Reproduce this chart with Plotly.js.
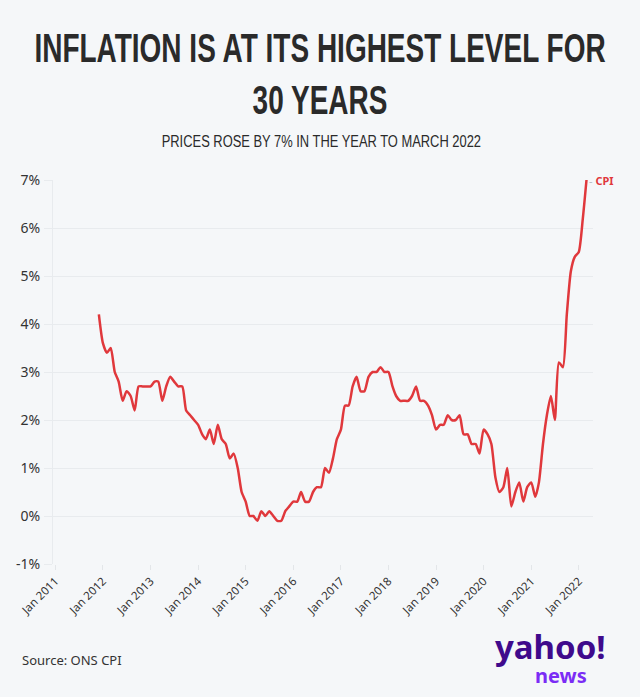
<!DOCTYPE html>
<html>
<head>
<meta charset="utf-8">
<script src="https://cdn.plot.ly/plotly-3.0.1.min.js"></script>
<style>
  html, body { margin: 0; padding: 0; background: #f5f7f9; }
  #chart { width: 640px; height: 697px; }
</style>
</head>
<body>
<div id="chart"></div>
<script>
// Monthly dates (Dec 2011 - Mar 2022)
const months = [
  '2011-12-01',
  '2012-01-01','2012-02-01','2012-03-01','2012-04-01','2012-05-01','2012-06-01','2012-07-01','2012-08-01','2012-09-01','2012-10-01','2012-11-01','2012-12-01',
  '2013-01-01','2013-02-01','2013-03-01','2013-04-01','2013-05-01','2013-06-01','2013-07-01','2013-08-01','2013-09-01','2013-10-01','2013-11-01','2013-12-01',
  '2014-01-01','2014-02-01','2014-03-01','2014-04-01','2014-05-01','2014-06-01','2014-07-01','2014-08-01','2014-09-01','2014-10-01','2014-11-01','2014-12-01',
  '2015-01-01','2015-02-01','2015-03-01','2015-04-01','2015-05-01','2015-06-01','2015-07-01','2015-08-01','2015-09-01','2015-10-01','2015-11-01','2015-12-01',
  '2016-01-01','2016-02-01','2016-03-01','2016-04-01','2016-05-01','2016-06-01','2016-07-01','2016-08-01','2016-09-01','2016-10-01','2016-11-01','2016-12-01',
  '2017-01-01','2017-02-01','2017-03-01','2017-04-01','2017-05-01','2017-06-01','2017-07-01','2017-08-01','2017-09-01','2017-10-01','2017-11-01','2017-12-01',
  '2018-01-01','2018-02-01','2018-03-01','2018-04-01','2018-05-01','2018-06-01','2018-07-01','2018-08-01','2018-09-01','2018-10-01','2018-11-01','2018-12-01',
  '2019-01-01','2019-02-01','2019-03-01','2019-04-01','2019-05-01','2019-06-01','2019-07-01','2019-08-01','2019-09-01','2019-10-01','2019-11-01','2019-12-01',
  '2020-01-01','2020-02-01','2020-03-01','2020-04-01','2020-05-01','2020-06-01','2020-07-01','2020-08-01','2020-09-01','2020-10-01','2020-11-01','2020-12-01',
  '2021-01-01','2021-02-01','2021-03-01','2021-04-01','2021-05-01','2021-06-01','2021-07-01','2021-08-01','2021-09-01','2021-10-01','2021-11-01','2021-12-01',
  '2022-01-01','2022-02-01','2022-03-01'
];

// CPI annual rate, %
const cpi = [
  4.2,
  3.6,3.4,3.5,3.0,2.8,2.4,2.6,2.5,2.2,2.7,2.7,2.7,
  2.7,2.8,2.8,2.4,2.7,2.9,2.8,2.7,2.7,2.2,2.1,2.0,
  1.9,1.7,1.6,1.8,1.5,1.9,1.6,1.5,1.2,1.3,1.0,0.5,
  0.3,0.0,0.0,-0.1,0.1,0.0,0.1,0.0,-0.1,-0.1,0.1,0.2,
  0.3,0.3,0.5,0.3,0.3,0.5,0.6,0.6,1.0,0.9,1.2,1.6,
  1.8,2.3,2.3,2.7,2.9,2.6,2.6,2.9,3.0,3.0,3.1,3.0,
  3.0,2.7,2.5,2.4,2.4,2.4,2.5,2.7,2.4,2.4,2.3,2.1,
  1.8,1.9,1.9,2.1,2.0,2.0,2.1,1.7,1.7,1.5,1.5,1.3,
  1.8,1.7,1.5,0.8,0.5,0.6,1.0,0.2,0.5,0.7,0.3,0.6,
  0.7,0.4,0.7,1.5,2.1,2.5,2.0,3.2,3.1,4.2,5.1,5.4,
  5.5,6.2,7.0
];

const tickDates = ['2011-01-01','2012-01-01','2013-01-01','2014-01-01','2015-01-01','2016-01-01',
                   '2017-01-01','2018-01-01','2019-01-01','2020-01-01','2021-01-01','2022-01-01'];
const tickLabels = ['Jan 2011','Jan 2012','Jan 2013','Jan 2014','Jan 2015','Jan 2016',
                    'Jan 2017','Jan 2018','Jan 2019','Jan 2020','Jan 2021','Jan 2022'];
const yTicks = [-1,0,1,2,3,4,5,6,7];
const yLabels = ['-1%','0%','1%','2%','3%','4%','5%','6%','7%'];

const seriesName = 'CPI';
const titleText = 'INFLATION IS AT ITS HIGHEST LEVEL FOR<br>30 YEARS';
const subtitleText = 'PRICES ROSE BY 7% IN THE YEAR TO MARCH 2022';
const sourceText = 'Source: ONS CPI';

const bg = '#f5f7f9';
const red = '#e0383c';
const grid = '#e8ebee';

const trace = {
  x: months, y: cpi, type: 'scatter', mode: 'lines', name: seriesName,
  line: { color: red, width: 2.5, shape: 'spline', smoothing: 0.6 },
  hoverinfo: 'skip'
};

const lastX = months[months.length - 1];
const lastY = cpi[cpi.length - 1];

const layout = {
  width: 640, height: 697,
  paper_bgcolor: bg, plot_bgcolor: bg,
  margin: { l: 53, r: 47, t: 180, b: 133 },
  showlegend: false,
  font: { family: 'Noto Sans, sans-serif', color: '#333333' },
  title: {
    text: titleText,
    font: { family: 'Liberation Sans, Arial, sans-serif', size: 40, color: '#2a2a2a', weight: 700 },
    x: 0.5, xanchor: 'center', xref: 'container',
    y: 0.955, yref: 'container', yanchor: 'top'
  },
  xaxis: {
    type: 'date',
    range: ['2010-12-14', '2022-04-20'],
    tickmode: 'array', tickvals: tickDates, ticktext: tickLabels,
    tickangle: -45,
    tickfont: { size: 11.5, color: '#333333', family: 'Noto Sans, sans-serif' },
    showgrid: false, zeroline: false,
    showline: false,
    ticks: 'outside', ticklen: 5, tickcolor: '#e3e6e9'
  },
  yaxis: {
    range: [-1, 7],
    tickmode: 'array', tickvals: yTicks, ticktext: yLabels,
    tickfont: { size: 14, color: '#333333', family: 'Noto Sans, sans-serif' },
    showgrid: true, gridcolor: grid, gridwidth: 1,
    zeroline: false,
    showline: true, linecolor: grid, linewidth: 1,
    ticks: 'outside', ticklen: 8, tickcolor: grid, ticklabelstandoff: 1
  },
  annotations: [
    {
      text: subtitleText, xref: 'paper', yref: 'paper',
      x: 0.5, xshift: -(53 - 47) / 2 + 1, y: 1, yshift: 39, xanchor: 'center', yanchor: 'middle', showarrow: false,
      font: { family: 'Liberation Sans, Arial, sans-serif', size: 17, color: '#2a2a2a' }
    },
    {
      text: '<span style="color:#b8bcc0">-</span> <b>' + seriesName + '</b>',
      x: lastX, y: lastY, xref: 'x', yref: 'y',
      xanchor: 'left', yanchor: 'middle', showarrow: false, xshift: 1,
      font: { family: 'Noto Sans, sans-serif', size: 11, color: red }
    },
    {
      text: sourceText, xref: 'paper', yref: 'paper',
      x: 0, xshift: -33, y: 0, yshift: -96, xanchor: 'left', yanchor: 'middle', showarrow: false,
      font: { family: 'Noto Sans, sans-serif', size: 13, color: '#333333' }
    },
    {
      text: '<b>yahoo!</b>', xref: 'paper', yref: 'paper',
      x: 1, xshift: 15, y: 0, yshift: -82, xanchor: 'right', yanchor: 'middle', showarrow: false,
      font: { family: 'Noto Sans, sans-serif', size: 33, color: '#3f0a8c', weight: 900 }
    },
    {
      text: '<b>news</b>', xref: 'paper', yref: 'paper',
      x: 1, xshift: -4, y: 0, yshift: -111, xanchor: 'right', yanchor: 'middle', showarrow: false,
      font: { family: 'Noto Sans, sans-serif', size: 20, color: '#7b2cf5' }
    }
  ]
};

function condense(el, sx, dy) {
  if (!el) return;
  const bb = el.getBBox();
  const cx = bb.x + bb.width / 2;
  const prev = el.getAttribute('transform') || '';
  el.setAttribute('transform', prev + ' translate(' + cx + ',' + (dy || 0) + ') scale(' + sx + ',1) translate(' + (-cx) + ',0)');
}

Plotly.newPlot('chart', [trace], layout, { staticPlot: true, displayModeBar: false }).then(function (gd) {
  condense(gd.querySelector('.gtitle'), 0.70, 31);
  const anns = gd.querySelectorAll('.annotation-text');
  condense(anns[0], 0.76, 0);
});
</script>
</body>
</html>
